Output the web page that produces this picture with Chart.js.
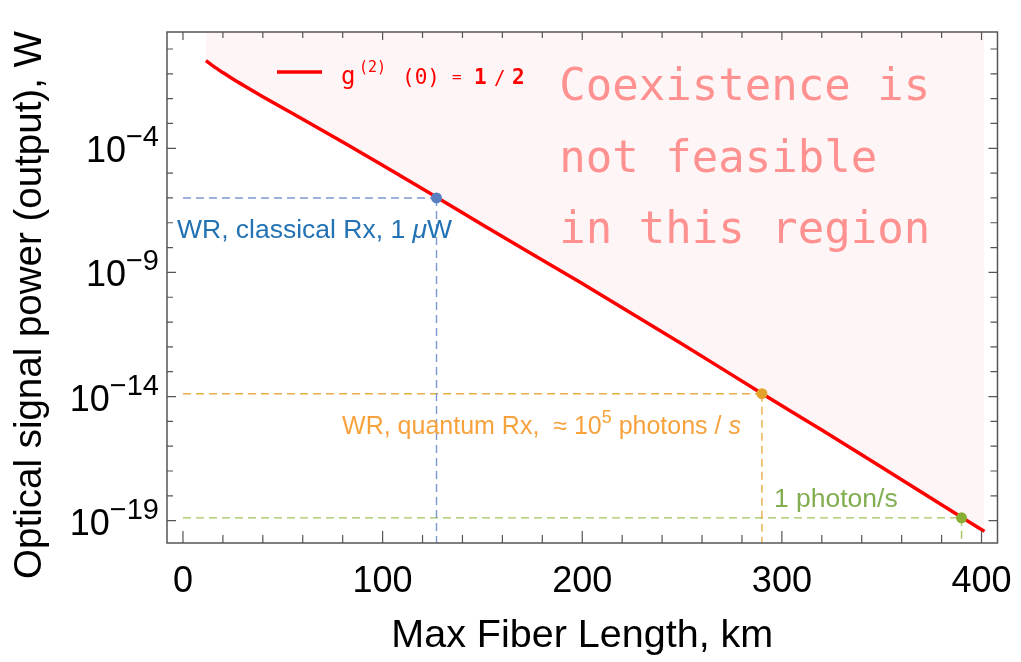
<!DOCTYPE html>
<html>
<head>
<meta charset="utf-8">
<script src="https://cdn.jsdelivr.net/npm/chart.js@4.4.0/dist/chart.umd.min.js"></script>
<style>
  html, body { margin: 0; padding: 0; background: #fff; }
</style>
</head>
<body>
<canvas id="chart" width="1021" height="662"></canvas>
<script>
// red curve: max fiber length (km) vs optical output power (W)
const fiberKm = [11.5, 15, 20, 25, 30, 40, 50, 60, 80, 100, 127, 150, 200, 250, 290, 320, 350, 390, 401.5];
const powerW = [0.339, 0.209, 0.112, 0.0617, 0.0355, 0.0120, 4.17e-3, 1.48e-3, 1.78e-4, 2.09e-5,
                1.07e-6, 8.3e-8, 3.55e-10, 1.32e-12, 1.32e-14, 4.47e-16, 1.41e-17, 1.38e-19, 3.7e-20];

// receiver thresholds (classical 1 uW, quantum ~1e5 photons/s, 1 photon/s)
const markKm = [127, 290, 390];
const markW = [1e-6, 1.3e-14, 1.3e-19];

// axes
const xTickVals = [0, 100, 200, 300, 400];
const yLabelExps = [-4, -9, -14, -19];
const X_MIN = -8, X_MAX = 408;
const Y_MIN = Math.pow(10, -19.9), Y_MAX = Math.pow(10, 0.684);

const dotColors = ['#5b80c2', '#e2a22c', '#8aae34'];
const dashColors = ['rgba(100,135,200,0.85)', 'rgba(230,165,50,0.9)', 'rgba(150,188,75,0.9)'];

const datasets = [];

// dots on top
datasets.push({
  type: 'scatter',
  data: markKm.map((k, i) => ({ x: k, y: markW[i] })),
  pointRadius: 5.5,
  pointHoverRadius: 5.5,
  pointBackgroundColor: dotColors,
  pointBorderWidth: 0,
  order: 0
});

datasets.push({
  type: 'line',
  data: fiberKm.map((k, i) => ({ x: k, y: powerW[i] })),
  borderColor: '#ff0000',
  borderWidth: 3.5,
  pointRadius: 0,
  cubicInterpolationMode: 'monotone',
  fill: 'end',
  backgroundColor: '#fef6f6',
  order: 1
});

markKm.forEach((k, i) => {
  datasets.push({
    type: 'line',
    data: [{ x: 0, y: markW[i] }, { x: k, y: markW[i] }],
    borderColor: dashColors[i],
    borderWidth: 1.4,
    borderDash: [8, 5],
    pointRadius: 0,
    fill: false,
    order: 2
  });
  datasets.push({
    type: 'line',
    data: [{ x: k, y: markW[i] }, { x: k, y: Y_MIN }],
    borderColor: dashColors[i],
    borderWidth: 1.4,
    borderDash: [8, 5],
    pointRadius: 0,
    fill: false,
    order: 2
  });
});

function drawRuns(ctx, x, y, runs, align) {
  // runs: [text, font, dy, color]
  let total = 0;
  runs.forEach(r => { ctx.font = r[1]; total += ctx.measureText(r[0]).width; });
  let cx = align === 'right' ? x - total : x;
  ctx.textAlign = 'left';
  ctx.textBaseline = 'alphabetic';
  runs.forEach(r => {
    ctx.font = r[1];
    if (r[3]) ctx.fillStyle = r[3];
    ctx.fillText(r[0], cx, y + (r[2] || 0));
    cx += ctx.measureText(r[0]).width;
  });
  return total;
}

const framePlugin = {
  id: 'frame',
  afterDraw(chart) {
    const ctx = chart.ctx;
    const a = chart.chartArea;
    const xs = chart.scales.x, ys = chart.scales.y;
    ctx.save();

    // frame
    ctx.strokeStyle = '#555';
    ctx.lineWidth = 1.5;
    ctx.strokeRect(a.left, a.top, a.right - a.left, a.bottom - a.top);

    // x ticks, inward, every 20 km
    ctx.lineWidth = 1.2;
    for (let v = 0; v <= 400; v += 20) {
      const px = xs.getPixelForValue(v);
      const major = v % 100 === 0;
      ctx.beginPath();
      ctx.moveTo(px, a.bottom);
      ctx.lineTo(px, a.bottom - (major ? 12 : 8));
      ctx.moveTo(px, a.top);
      ctx.lineTo(px, a.top + (major ? 8 : 6));
      ctx.stroke();
    }
    // y ticks, every decade
    for (let e = -19; e <= 0; e++) {
      const py = ys.getPixelForValue(Math.pow(10, e));
      const major = yLabelExps.includes(e);
      ctx.beginPath();
      ctx.moveTo(a.left, py);
      ctx.lineTo(a.left + (major ? 9 : 6), py);
      ctx.moveTo(a.right, py);
      ctx.lineTo(a.right - (major ? 9 : 7), py);
      ctx.stroke();
    }

    // y tick labels 10^e
    ctx.fillStyle = '#000';
    yLabelExps.forEach(e => {
      const py = ys.getPixelForValue(Math.pow(10, e));
      drawRuns(ctx, a.left - 8, py + 14, [
        ['10', '36px "Liberation Sans"', 0],
        ['\u2212' + Math.abs(e), '29px "Liberation Sans"', -16]
      ], 'right');
    });

    // y title
    ctx.save();
    ctx.translate(30, 305);
    ctx.rotate(-Math.PI / 2);
    ctx.font = '38.5px "Liberation Sans"';
    ctx.textAlign = 'center';
    ctx.textBaseline = 'middle';
    ctx.fillStyle = '#000';
    ctx.fillText('Optical signal power (output), W', 0, 0);
    ctx.restore();

    // annotations
    const f = '25px "Liberation Sans"';
    const fi = 'italic 25px "Liberation Sans"';
    drawRuns(ctx, xs.getPixelForValue(-3), ys.getPixelForValue(markW[0]) + 40, [
      ['WR, classical Rx, 1 ', '26.5px "Liberation Sans"', 0, '#2272b4'],
      ['\u03bc', 'italic 26.5px "Liberation Sans"', 0],
      ['W', '26.5px "Liberation Sans"', 0]
    ]);
    drawRuns(ctx, xs.getPixelForValue(279.5), ys.getPixelForValue(markW[1]) + 40, [
      ['WR, quantum Rx,  \u2248 10', f, 0, '#f8a23e'],
      ['5', '18px "Liberation Sans"', -11],
      [' photons / ', f, 0],
      ['s', fi, 0]
    ], 'right');
    drawRuns(ctx, xs.getPixelForValue(296), ys.getPixelForValue(markW[2]) - 11, [
      ['1 photon/s', '26.5px "Liberation Sans"', 0, '#80ae50']
    ]);

    // legend
    const lx = a.left + 110, ly = 72;
    ctx.strokeStyle = '#ff0000';
    ctx.lineWidth = 3.5;
    ctx.beginPath();
    ctx.moveTo(lx, ly);
    ctx.lineTo(lx + 45, ly);
    ctx.stroke();
    ctx.fillStyle = '#ff0000';
    ctx.textAlign = 'left';
    ctx.textBaseline = 'alphabetic';
    const lg = [
      ['g', '24px "DejaVu Sans Mono"', 64, 84],
      ['(2)', '15px "DejaVu Sans Mono"', 82, 72],
      ['(0)', '21px "DejaVu Sans Mono"', 125, 84],
      ['=', '16px "DejaVu Sans Mono"', 175, 82],
      ['1', 'bold 21px "DejaVu Sans Mono"', 197, 84],
      ['/', '19px "DejaVu Sans Mono"', 217, 84],
      ['2', 'bold 21px "DejaVu Sans Mono"', 235, 84]
    ];
    lg.forEach(r => {
      ctx.font = r[1];
      ctx.fillText(r[0], lx + r[2], r[3]);
    });

    // region text
    ctx.fillStyle = '#ff9191';
    ctx.font = '44px "DejaVu Sans Mono"';
    const tx = xs.getPixelForValue(188.5);
    ['Coexistence is', 'not feasible', 'in this region'].forEach((s, i) => {
      ctx.fillText(s, tx, 100 + i * 71.5);
    });

    ctx.restore();
  }
};

new Chart(document.getElementById('chart'), {
  type: 'line',
  data: { datasets },
  options: {
    responsive: false,
    animation: false,
    events: [],
    layout: { padding: { left: 0, top: 32, right: 23, bottom: 0 } },
    plugins: {
      legend: { display: false },
      tooltip: { enabled: false },
      filler: { drawTime: 'beforeDatasetsDraw' }
    },
    scales: {
      x: {
        type: 'linear',
        min: X_MIN,
        max: X_MAX,
        grid: { display: false },
        border: { display: false },
        afterBuildTicks: s => { s.ticks = xTickVals.map(v => ({ value: v })); },
        afterFit: s => { s.height = 662 - 543; },
        ticks: {
          color: '#000',
          padding: 9,
          maxRotation: 0,
          font: { family: 'Liberation Sans', size: 36 }
        },
        title: {
          display: true,
          text: 'Max Fiber Length, km',
          color: '#000',
          font: { family: 'Liberation Sans', size: 39.5 },
          padding: { top: 0, bottom: 2 }
        }
      },
      y: {
        type: 'logarithmic',
        min: Y_MIN,
        max: Y_MAX,
        grid: { display: false },
        border: { display: false },
        ticks: { display: false },
        afterFit: s => { s.width = 167; }
      }
    }
  },
  plugins: [framePlugin]
});
</script>
</body>
</html>
